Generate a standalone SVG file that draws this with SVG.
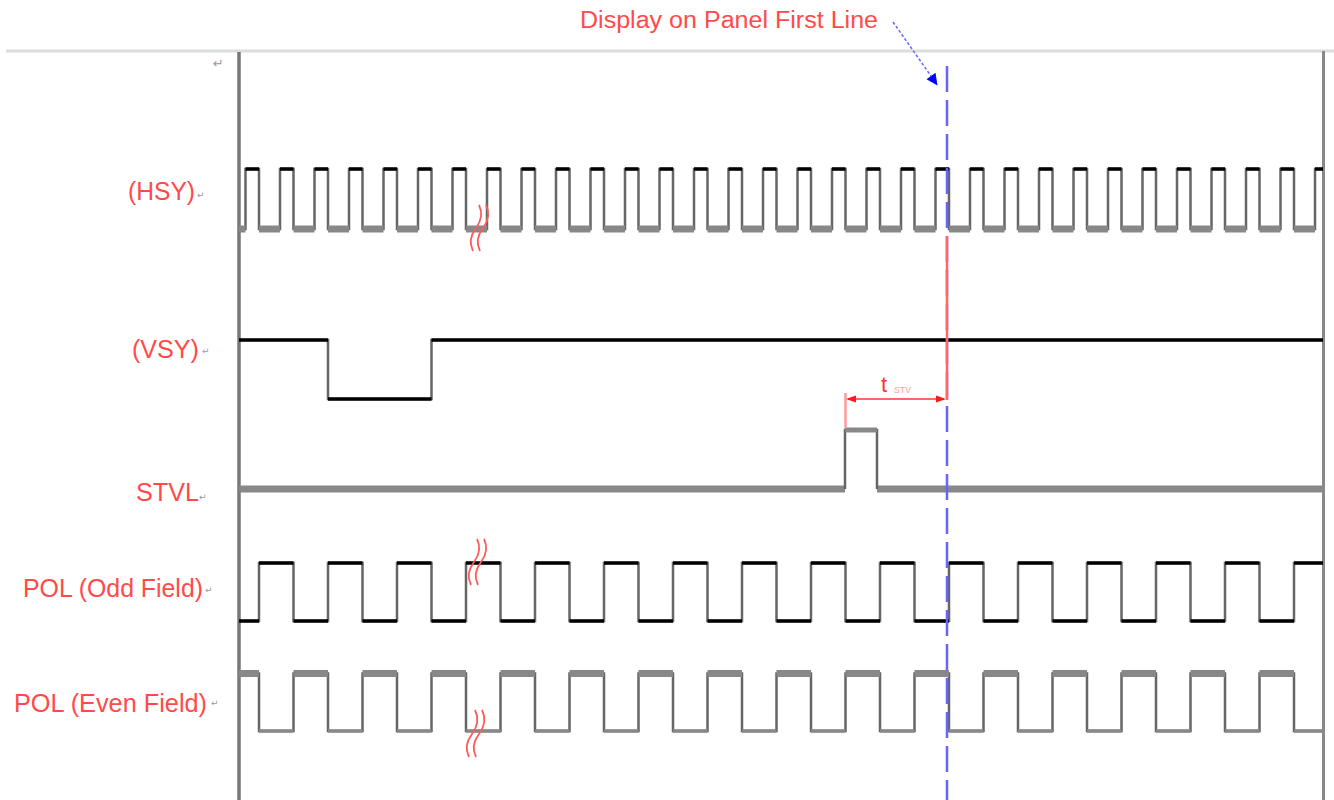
<svg xmlns="http://www.w3.org/2000/svg" width="1334" height="800" viewBox="0 0 1334 800">
<style>
.lbl{font-family:"Liberation Sans",Arial,sans-serif;font-size:25px;fill:#ff4a4a}
.pm{font-family:"DejaVu Sans",sans-serif;font-size:9px;fill:#999}
.vert{fill:none;stroke:#666;stroke-width:2.5}
.blk{fill:none;stroke:#000;stroke-width:3.5}
.gry{fill:none;stroke:#888;stroke-width:7}
.gryt{fill:none;stroke:#888;stroke-width:3.5}
.brk{fill:none;stroke:#ff5a5a;stroke-width:1.8}
</style>
<rect width="1334" height="800" fill="#fff"/>
<g id="frame">
<line x1="6" y1="51" x2="1334" y2="51" stroke="#dcdcdc" stroke-width="3"/>
<line x1="239" y1="52" x2="239" y2="800" stroke="#777" stroke-width="3.5"/>
<line x1="1323.5" y1="51" x2="1323.5" y2="800" stroke="#888" stroke-width="3"/>
<text x="213" y="68" style="font-family:'DejaVu Sans',sans-serif;font-size:13px;fill:#999">↵</text>
</g>
<g id="title">
<text class="lbl" x="580" y="28" style="font-size:23px" textLength="298" lengthAdjust="spacingAndGlyphs">Display on Panel First Line</text>
</g>
<g id="hsy">
<text class="lbl" x="128" y="200" textLength="67" lengthAdjust="spacingAndGlyphs">(HSY)</text>
<text class="pm" x="197" y="198">↵</text>
<path class="vert" d="M239,229 H245.5 V169 H259 V229 H280 V169 H293.5 V229 H314.5 V169 H328 V229 H349 V169 H362.5 V229 H383.5 V169 H397 V229 H418 V169 H431.5 V229 H452.5 V169 H466 V229 H487 V169 H500.5 V229 H521.5 V169 H535 V229 H556 V169 H569.5 V229 H590.5 V169 H604 V229 H625 V169 H638.5 V229 H659.5 V169 H673 V229 H694 V169 H707.5 V229 H728.5 V169 H742 V229 H763 V169 H776.5 V229 H797.5 V169 H811 V229 H832 V169 H845.5 V229 H866.5 V169 H880 V229 H901 V169 H914.5 V229 H935.5 V169 H949 V229 H970 V169 H983.5 V229 H1004.5 V169 H1018 V229 H1039 V169 H1052.5 V229 H1073.5 V169 H1087 V229 H1108 V169 H1121.5 V229 H1142.5 V169 H1156 V229 H1177 V169 H1190.5 V229 H1211.5 V169 H1225 V229 H1246 V169 H1259.5 V229 H1280.5 V169 H1294 V229 H1315 V169 H1323"/>
<line class="blk" x1="245.5" y1="169" x2="1323" y2="169" stroke-dasharray="13.5 21"/>
<line class="gry" x1="239" y1="229" x2="1315" y2="229" stroke-dasharray="21 13.5" stroke-dashoffset="14.5"/>
<path class="brk" d="M486,205 C490,213 489,220 483,228 C477,236 476,243 480,251 M479,205 C483,213 482,220 476,228 C470,236 469,243 473,251"/>
</g>
<g id="vsy">
<text class="lbl" x="132" y="358" textLength="67" lengthAdjust="spacingAndGlyphs">(VSY)</text>
<text class="pm" x="202" y="354">↵</text>
<path class="vert" d="M239,340 H328 V399 H431.5 V340 H1323"/>
<path class="blk" d="M239,340 H328 M328,399 H431.5 M431.5,340 H1323"/>
</g>
<g id="stvl">
<text class="lbl" x="136" y="501" textLength="63" lengthAdjust="spacingAndGlyphs">STVL</text>
<text class="pm" x="199" y="500">↵</text>
<path class="gry" d="M239,489 H845 M877,489 H1323"/>
<path class="vert" d="M845,489 V430 H877 V489"/>
<line x1="845" y1="430" x2="877" y2="430" stroke="#888" stroke-width="5"/>
</g>
<g id="pol-odd">
<text class="lbl" x="23" y="597" textLength="180" lengthAdjust="spacingAndGlyphs">POL (Odd Field)</text>
<text class="pm" x="205" y="593">↵</text>
<path class="vert" d="M239,621 H259 V563 H293.5 V621 H328 V563 H362.5 V621 H397 V563 H431.5 V621 H466 V563 H500.5 V621 H535 V563 H569.5 V621 H604 V563 H638.5 V621 H673 V563 H707.5 V621 H742 V563 H776.5 V621 H811 V563 H845.5 V621 H880 V563 H914.5 V621 H949 V563 H983.5 V621 H1018 V563 H1052.5 V621 H1087 V563 H1121.5 V621 H1156 V563 H1190.5 V621 H1225 V563 H1259.5 V621 H1294 V563 H1323"/>
<line class="blk" x1="259" y1="563" x2="1323" y2="563" stroke-dasharray="34.5 34.5"/>
<line class="blk" x1="239" y1="621" x2="1294" y2="621" stroke-dasharray="34.5 34.5" stroke-dashoffset="14.5"/>
<path class="brk" d="M484,539 C488,547 487,554 481,562 C475,570 474,577 478,585 M477,539 C481,547 480,554 474,562 C468,570 467,577 471,585"/>
</g>
<g id="pol-even">
<text class="lbl" x="14" y="712" textLength="193" lengthAdjust="spacingAndGlyphs">POL (Even Field)</text>
<text class="pm" x="211" y="706">↵</text>
<path class="vert" d="M239,673.5 H259 V731 H293.5 V673.5 H328 V731 H362.5 V673.5 H397 V731 H431.5 V673.5 H466 V731 H500.5 V673.5 H535 V731 H569.5 V673.5 H604 V731 H638.5 V673.5 H673 V731 H707.5 V673.5 H742 V731 H776.5 V673.5 H811 V731 H845.5 V673.5 H880 V731 H914.5 V673.5 H949 V731 H983.5 V673.5 H1018 V731 H1052.5 V673.5 H1087 V731 H1121.5 V673.5 H1156 V731 H1190.5 V673.5 H1225 V731 H1259.5 V673.5 H1294 V731 H1323"/>
<line class="gry" x1="239" y1="673.5" x2="1294" y2="673.5" stroke-dasharray="34.5 34.5" stroke-dashoffset="14.5"/>
<line class="gryt" x1="259" y1="731" x2="1323" y2="731" stroke-dasharray="34.5 34.5"/>
<path class="brk" d="M482,710 C486,718 485,726 479,734 C473,742 472,749 476,757 M475,710 C479,718 478,726 472,734 C466,742 465,749 469,757"/>
</g>
<g id="connectors">
<line x1="947" y1="66" x2="947" y2="800" stroke="#6666ff" stroke-width="2.5" stroke-dasharray="26 8"/>
<line x1="947" y1="236" x2="947" y2="400" stroke="#ff6666" stroke-width="2.5"/>
<line x1="845.5" y1="393" x2="845.5" y2="428" stroke="#ff9a9a" stroke-width="2.5"/>
<line x1="848" y1="399" x2="944" y2="399" stroke="#ff6666" stroke-width="2"/>
<polygon points="846,399 856,395.5 856,402.5" fill="#ff1a1a"/>
<polygon points="946,399 936,395.5 936,402.5" fill="#ff1a1a"/>
<text x="881" y="392" style="font-family:'Liberation Sans',Arial,sans-serif;font-size:22px;fill:#ff3030">t</text>
<text x="894" y="393" style="font-family:'Liberation Sans',Arial,sans-serif;font-size:9px;fill:#ff9a9a" textLength="17" lengthAdjust="spacingAndGlyphs">STV</text>
<line x1="893" y1="22" x2="931" y2="76" stroke="#6666ff" stroke-width="1.5" stroke-dasharray="3 2"/>
<polygon points="937.5,85.5 926.5,79.2 935.5,72.8" fill="#0000ff"/>
</g>
</svg>
